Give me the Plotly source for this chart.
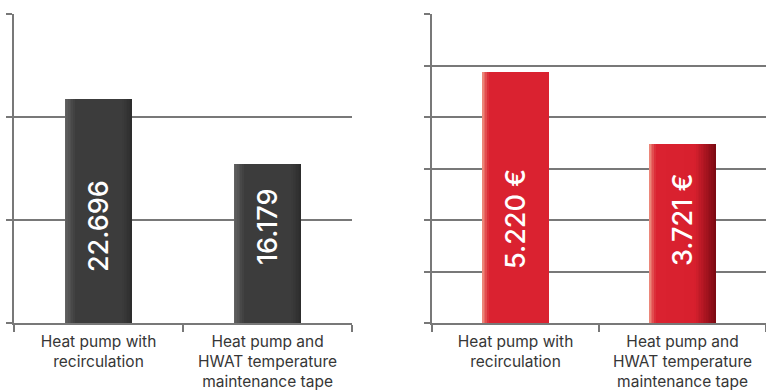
import plotly.graph_objects as go
import numpy as np

# Data
categories = ["Heat pump with recirculation", "Heat pump and HWAT temperature maintenance tape"]
tick_labels = ["Heat pump with<br>recirculation", "Heat pump and<br>HWAT temperature<br>maintenance tape"]
energy = [22.696, 16.179]
cost = [5220, 3721]

energy_text = [f"{v:.3f}" for v in energy]
cost_text = [f"{v:,}".replace(",", ".") + " €" for v in cost]

FONT = "Inter, Roboto, Arial, sans-serif"
N_STRIPS = 40
BAR_W = 0.4


def hex_to_rgb(h):
    h = h.lstrip("#")
    return np.array([int(h[i:i + 2], 16) for i in (0, 2, 4)], dtype=float)


def profile_color(stops, t):
    """Piecewise-linear colour across the bar width, t in [0, 1]."""
    for (t0, c0), (t1, c1) in zip(stops[:-1], stops[1:]):
        if t0 <= t <= t1:
            f = 0 if t1 == t0 else (t - t0) / (t1 - t0)
            c = hex_to_rgb(c0) * (1 - f) + hex_to_rgb(c1) * f
            return "rgb({:.0f},{:.0f},{:.0f})".format(*c)
    return stops[-1][1]


dark_stops = [(0.0, "#656565"), (0.16, "#3c3c3c"), (0.84, "#3c3c3c"), (1.0, "#2c2c2c")]
red_a_stops = [(0.0, "#ee9483"), (0.10, "#da2230"), (1.0, "#da2230")]
red_b_stops = [(0.0, "#ee9483"), (0.10, "#da2230"), (0.68, "#d8202e"), (1.0, "#7a0912")]

fig = go.Figure()


def add_shaded_bars(values, stops_per_bar, xa, ya):
    dw = BAR_W / N_STRIPS
    for k in range(N_STRIPS):
        t = (k + 0.5) / N_STRIPS
        colors = [profile_color(s, t) for s in stops_per_bar]
        fig.add_trace(go.Bar(
            x=categories, y=values,
            offset=-BAR_W / 2 + k * dw, width=BAR_W - k * dw,
            marker=dict(color=colors, line=dict(width=0)),
            xaxis=xa, yaxis=ya, showlegend=False, hoverinfo="skip",
        ))


add_shaded_bars(energy, [dark_stops, dark_stops], "x", "y")
add_shaded_bars(cost, [red_a_stops, red_b_stops], "x2", "y2")

energy_max = 31.35
cost_max = 6430

grid = "#787878"
axis_common = dict(showline=True, linecolor=grid, linewidth=2, ticks="outside",
                   tickcolor=grid, tickwidth=1.5, automargin=False)

xaxis_common = dict(axis_common, type="category", categoryarray=categories,
                    tickmode="array", tickvals=categories, ticktext=tick_labels,
                    tickson="boundaries", ticklen=7, showgrid=False, ticklabelstandoff=3,
                    tickfont=dict(family=FONT, size=15.5, color="#363636"))

fig.update_layout(
    width=766, height=392,
    margin=dict(l=14, r=0, t=14, b=69),
    paper_bgcolor="white", plot_bgcolor="white",
    barmode="overlay", bargap=0,
    font=dict(family=FONT),
    xaxis=dict(xaxis_common, domain=[0, 0.4495], anchor="y"),
    xaxis2=dict(xaxis_common, domain=[0.5559, 1], anchor="y2"),
    yaxis=dict(axis_common, range=[0, energy_max], tickvals=list(np.linspace(0, energy_max, 4)),
               showticklabels=False, ticklen=6, showgrid=True, gridcolor=grid, gridwidth=1.5,
               zeroline=False, anchor="x"),
    yaxis2=dict(axis_common, range=[0, cost_max], tickvals=list(np.linspace(0, cost_max, 7)),
                showticklabels=False, ticklen=6, showgrid=True, gridcolor=grid, gridwidth=1.5,
                zeroline=False, anchor="x2"),
)

# Rotated value labels inside the bars
label_font = dict(family=FONT, size=27, color="white", weight=500)
for cat, txt in zip(categories, energy_text):
    fig.add_annotation(x=cat, xref="x", y=0.312, yref="y domain", text=txt, textangle=-90,
                       xanchor="center", yanchor="middle", showarrow=False, font=label_font)
for cat, txt in zip(categories, cost_text):
    fig.add_annotation(x=cat, xref="x2", y=0.335, yref="y2 domain", text=txt, textangle=-90,
                       xanchor="center", yanchor="middle", showarrow=False, font=label_font)

fig.write_html("out.html")
